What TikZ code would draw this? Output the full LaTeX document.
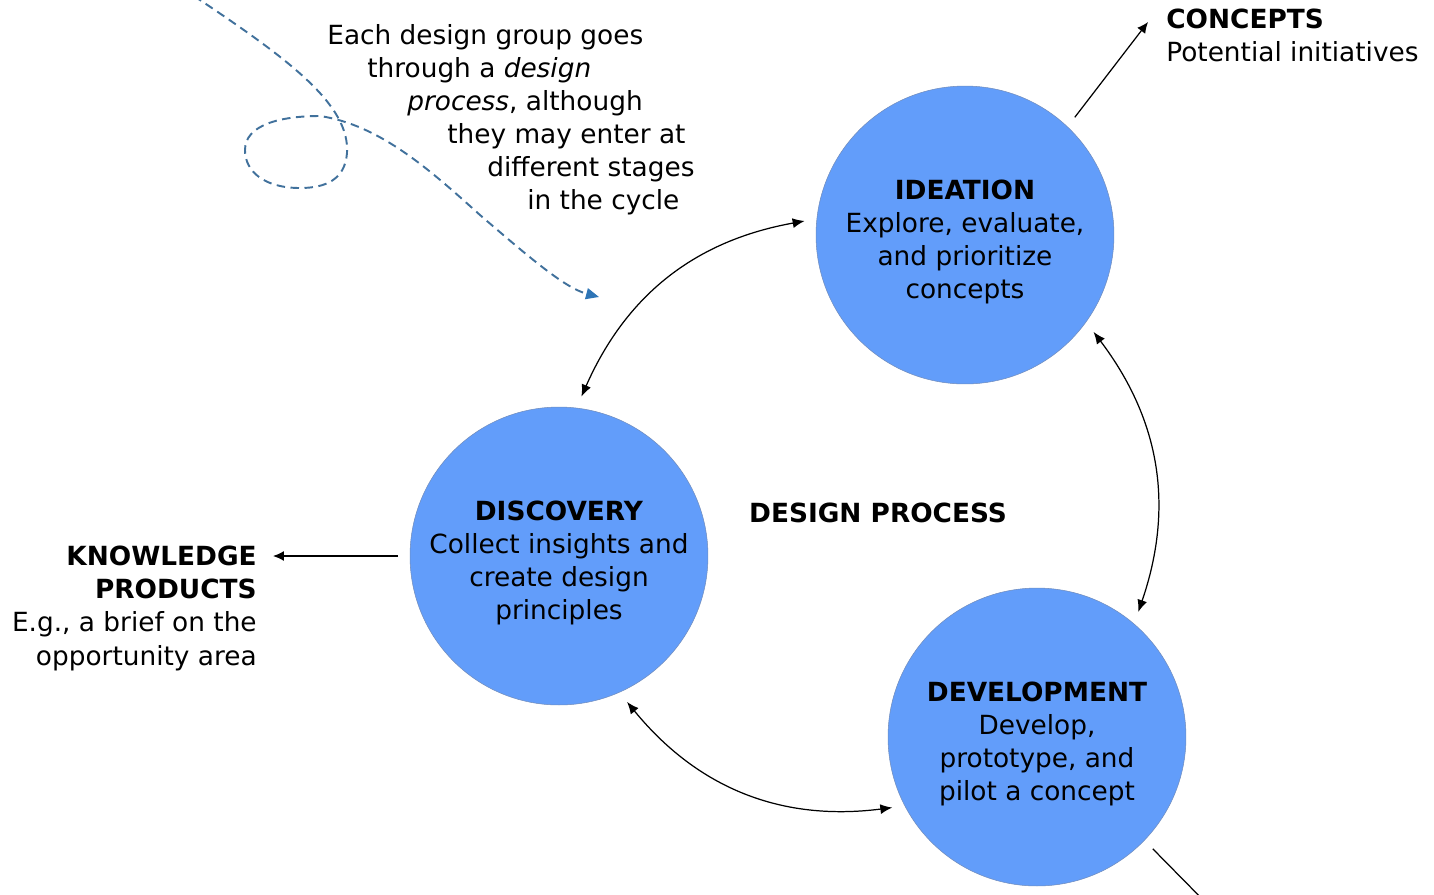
\documentclass[tikz,border=0pt]{standalone}
\usepackage{fontspec}
\setmainfont{DejaVu Sans}
\usetikzlibrary{arrows.meta, positioning, calc}
\definecolor{stageblue}{RGB}{98,157,250}
\definecolor{stageedge}{RGB}{112,140,188}
\definecolor{pathblue}{RGB}{65,113,156}
\definecolor{tipblue}{RGB}{46,117,182}
% stage title, with a strut that drops the text a little below centre
\newcommand{\stagetitle}[1]{\rule{0pt}{0.66cm}\textbf{#1}}
\tikzset{
  % Stage of the cycle
  stage/.style={
    circle, minimum size=5.96cm, inner sep=0pt, outer sep=0.24cm,
    fill=stageblue, draw=stageedge, line width=0.3pt, align=center,
    font=\fontsize{15}{18.8}\selectfont
  },
  plaintext/.style={inner sep=0pt, font=\fontsize{15}{18.8}\selectfont},
  cyclearrow/.style={{Latex[length=0.24cm,width=0.2cm]}-{Latex[length=0.24cm,width=0.2cm]}, line width=0.7pt},
  outarrow/.style={-{Latex[length=0.22cm,width=0.2cm]}, line width=0.7pt},
  entrypath/.style={
    dash pattern=on 0.17cm off 0.11cm, line width=1.1pt, pathblue,
    -{Triangle[length=0.26cm,width=0.22cm,color=tipblue]}
  }
}
\begin{document}
\begin{tikzpicture}[x=0.02cm, y=-0.02cm]
  \useasboundingbox (0,0) rectangle (1434,894);

  % Stages
  \node[stage] (ideation) at (965,235) {\stagetitle{IDEATION}\\Explore, evaluate,\\and prioritize\\concepts};
  \node[stage] (discovery) at (559,556) {\stagetitle{DISCOVERY}\\Collect insights and\\create design\\principles};
  \node[stage] (development) at (1037,737) {\stagetitle{DEVELOPMENT}\\Develop,\\prototype, and\\pilot a concept};

  \node[plaintext, font=\fontsize{15}{18.8}\selectfont\bfseries] (process) at (878,513) {DESIGN PROCESS};

  % Cycle arrows
  \draw[cyclearrow] (ideation.175) to[bend right=28] (discovery.82);
  \draw[cyclearrow] (ideation.323) to[bend left=28] (development.51);
  \draw[cyclearrow] (discovery.295) to[bend right=29] (development.206);

  % Outputs
  \node[plaintext, anchor=north west, align=left] (concepts) at (1166,9)
    {\textbf{CONCEPTS}\\Potential initiatives};
  \node[plaintext, anchor=north east, align=right] (knowledge) at (257,546)
    {\textbf{KNOWLEDGE}\\\textbf{PRODUCTS}\\E.g., a brief on the\\opportunity area};
  \coordinate (devout) at (1215,912);

  \draw[outarrow] (ideation.47) -- ([xshift=-0.36cm, yshift=-0.26cm]concepts.north west);
  \draw[outarrow, shorten >=0.32cm] (discovery.west) -- (discovery.west -| knowledge.east);
  \draw[outarrow] (development.316) -- (devout);

  % Entry note
  \node[plaintext, anchor=north west, align=left] (note) at (327,24)
    {Each design group goes\\
     \hspace*{0.8cm}through a \textit{design}\\
     \hspace*{1.6cm}\textit{process}, although\\
     \hspace*{2.4cm}they may enter at\\
     \hspace*{3.2cm}different stages\\
     \hspace*{4.0cm}in the cycle};

  \coordinate (entrystart) at (194,-4);
  \coordinate (entrytip) at (599,297);
  \draw[entrypath] (entrystart) .. controls (290,60) and (350,105) .. (347,153)
    .. controls (345,180) and (325,188) .. (300,188)
    .. controls (265,188) and (245,172) .. (245,150)
    .. controls (245,125) and (280,116) .. (320,116)
    .. controls (380,125) and (430,170) .. (480,215)
    .. controls (530,258) and (565,288) .. (entrytip);
\end{tikzpicture}
\end{document}
